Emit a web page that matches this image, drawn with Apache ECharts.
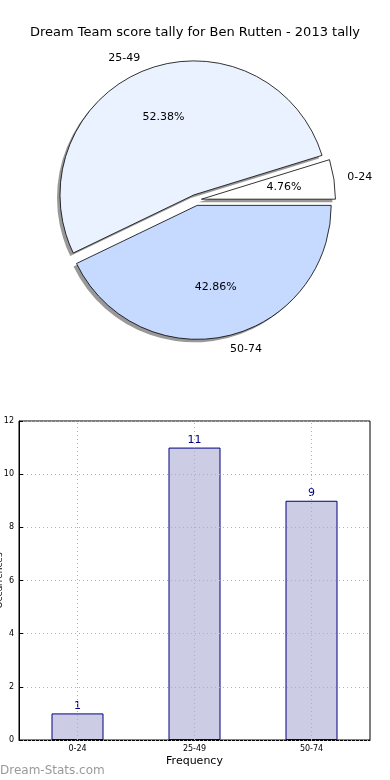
<!DOCTYPE html>
<html><head><meta charset="utf-8">
<script src="https://cdn.jsdelivr.net/npm/echarts@6/dist/echarts.min.js"></script>
<style>html,body{margin:0;padding:0;background:#fff}#c{width:390px;height:780px}</style>
</head><body><div id="c"></div>
<script>
const titleText = 'Dream Team score tally for Ben Rutten - 2013 tally';
const categories = ['0-24', '25-49', '50-74'];
const counts = [1, 11, 9];
const sliceColors = ['#ffffff', '#ebf2ff', '#c6d9ff'];
const yTicks = [0, 2, 4, 6, 8, 10, 12];
const xName = 'Frequency';
const yName = 'Occurrences';
const watermark = 'Dream-Stats.com';

const F = 'DejaVu Sans';
const R = 134;
const CX = 196, CY = 200;
const OFF = 5.5;

const pieData = categories.map((c, i) => ({
  name: c, value: counts[i], selected: true,
  itemStyle: { color: sliceColors[i] },
  label: { align: (i === 1 ? 'right' : 'left') }
}));
const plainData = categories.map((c, i) => ({ name: c, value: counts[i], selected: true }));

const chart = echarts.init(document.getElementById('c'), null, { renderer: 'canvas' });
chart.setOption({
  animation: false,
  title: { text: titleText, left: 'center', top: 21, textStyle: { fontFamily: F, fontSize: 13, fontWeight: 'normal', color: '#000' } },
  graphic: [
    { type: 'text', left: 0, top: 765, style: { text: watermark, fontFamily: F, fontSize: 12, fontWeight: 'normal', fill: '#9a9a9a' } }
  ],
  grid: { left: 19, right: 20, top: 421, bottom: 40, containLabel: false, outerBoundsMode: 'none', show: true, borderColor: '#000', borderWidth: 1, backgroundColor: 'transparent' },
  xAxis: {
    type: 'category', data: categories, boundaryGap: true,
    name: xName, nameLocation: 'middle', nameGap: 16, nameMoveOverlap: false,
    nameTextStyle: { fontFamily: F, fontSize: 11, color: '#000' },
    axisLine: { lineStyle: { color: '#000' } },
    axisTick: { inside: true, alignWithLabel: true, length: 4, lineStyle: { color: '#000' } },
    axisLabel: { fontFamily: F, fontSize: 8, color: '#000', margin: 5 },
    splitLine: { show: false }
  },
  yAxis: {
    type: 'value', min: 0, max: 12, interval: 2, z: 3,
    name: yName, nameLocation: 'middle', nameGap: 15, nameRotate: 90, nameMoveOverlap: false,
    nameTextStyle: { fontFamily: F, fontSize: 9, color: '#000' },
    axisLine: { show: true, lineStyle: { color: '#000' } },
    axisTick: { show: true, inside: true, length: 4, lineStyle: { color: '#000' } },
    axisLabel: { fontFamily: F, fontSize: 8, color: '#000', margin: 5, formatter: v => yTicks.includes(v) ? String(v) : '' },
    splitLine: { show: true, lineStyle: { color: '#b0b0b0', type: [1, 3], width: 1 } }
  },
  series: [
    {
      type: 'pie', center: [CX - 3, CY + 3], radius: [0, R], startAngle: 0, clockwise: false,
      selectedMode: 'multiple', selectedOffset: OFF, silent: true, z: 1,
      data: plainData,
      itemStyle: { color: 'rgba(70,70,70,0.55)', borderWidth: 0 },
      select: { itemStyle: { color: 'rgba(70,70,70,0.55)', borderWidth: 0 } },
      emphasis: { disabled: true },
      label: { show: false }, labelLine: { show: false }
    },
    {
      type: 'pie', center: [CX, CY], radius: [0, R], startAngle: 0, clockwise: false,
      selectedMode: 'multiple', selectedOffset: OFF, silent: true, z: 2,
      avoidLabelOverlap: false, minAngle: 0,
      data: pieData,
      itemStyle: { borderColor: '#000', borderWidth: 0.8 },
      select: { itemStyle: { borderColor: '#000', borderWidth: 0.8 } },
      emphasis: { disabled: true },
      label: { show: true, position: 'outside', fontFamily: F, fontSize: 11, color: '#000', distanceToLabelLine: 0, formatter: '{b}' },
      labelLine: { show: false, length: R * 0.1, length2: 0 }
    },
    {
      type: 'pie', center: [CX, CY], radius: [0, R * 1.2], startAngle: 0, clockwise: false,
      selectedMode: 'multiple', selectedOffset: OFF, silent: true, z: 3,
      data: plainData,
      itemStyle: { color: 'rgba(0,0,0,0)', borderWidth: 0 },
      select: { itemStyle: { color: 'rgba(0,0,0,0)', borderWidth: 0 } },
      emphasis: { disabled: true },
      label: { show: true, position: 'inside', fontFamily: F, fontSize: 11, color: '#000', formatter: '{d}%' },
      labelLine: { show: false }
    },
    {
      type: 'bar', data: counts, barWidth: 52, z: 2,
      itemStyle: { color: '#ccccE5', borderColor: '#000080', borderWidth: 1 },
      label: { show: true, position: 'top', distance: 2, fontFamily: F, fontSize: 11, color: '#000080' },
      emphasis: { disabled: true },
      markLine: {
        silent: true, symbol: 'none', label: { show: false }, z: 4,
        lineStyle: { color: '#b0b0b0', type: [1, 3], width: 1 },
        data: categories.map(c => ({ xAxis: c }))
      }
    }
  ]
});
</script></body></html>
